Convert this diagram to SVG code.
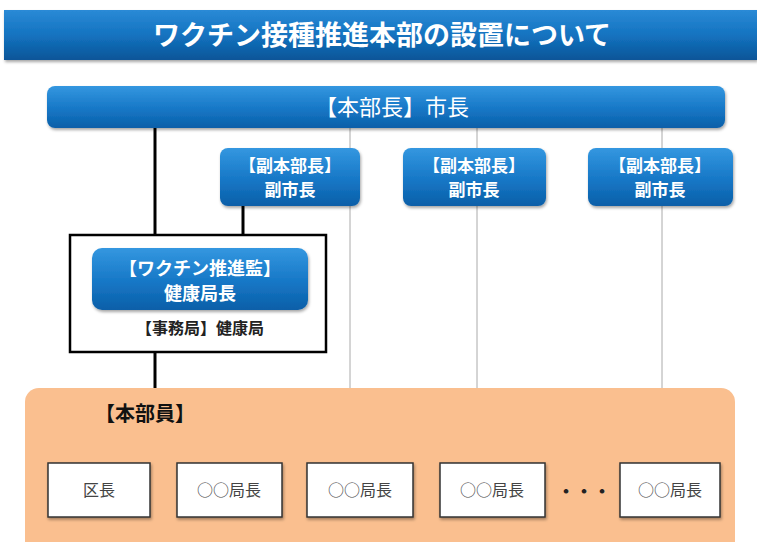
<svg xmlns="http://www.w3.org/2000/svg" width="757" height="542" viewBox="0 0 757 542">
<defs>
<linearGradient id="gTitle" x1="0" y1="0" x2="0" y2="1">
<stop offset="0" stop-color="#2a8ad6"/>
<stop offset="0.5" stop-color="#1473c0"/>
<stop offset="1" stop-color="#0a5598"/>
</linearGradient>
<linearGradient id="gBlue" x1="0" y1="0" x2="0" y2="1">
<stop offset="0" stop-color="#3497e0"/>
<stop offset="0.55" stop-color="#1677c6"/>
<stop offset="1" stop-color="#0b5fa8"/>
</linearGradient>
<filter id="sh" x="-10%" y="-10%" width="130%" height="140%">
<feDropShadow dx="1" dy="2" stdDeviation="1.5" flood-color="#000" flood-opacity="0.35"/>
</filter>
</defs>
<style>
text{font-family:"Noto Sans CJK JP","Noto Sans",sans-serif;text-anchor:middle;}
.wt{fill:#fff;font-weight:bold;}
.blue{fill:url(#gBlue);filter:url(#sh);}
.wbox{fill:#fff;stroke:#333;stroke-width:1.5;filter:url(#sh);}
.bt{fill:#444;font-size:16px;}
.thin{stroke:#aaa;stroke-width:1;fill:none;}
.thick{stroke:#000;stroke-width:3;fill:none;}
</style>
<rect width="757" height="542" fill="#fff"/>
<g id="title">
<rect x="4" y="10" width="753" height="50" fill="url(#gTitle)" filter="url(#sh)"/>
<text x="382" y="45" class="wt" font-size="27">ワクチン接種推進本部の設置について</text>
</g>
<g id="connectors">
<line class="thin" x1="350" y1="125" x2="350" y2="390"/>
<line class="thin" x1="477" y1="125" x2="477" y2="390"/>
<line class="thin" x1="662" y1="125" x2="662" y2="390"/>
<line class="thick" x1="155" y1="125" x2="155" y2="235"/>
<line class="thick" x1="243" y1="205" x2="243" y2="235"/>
<line class="thick" x1="155" y1="352" x2="155" y2="392"/>
</g>
<g id="honbucho">
<rect class="blue" x="47" y="86" width="678" height="42" rx="8"/>
<text x="392" y="115" fill="#fff" font-size="22">【本部長】市長</text>
</g>
<g id="fuku1">
<rect class="blue" x="220" y="148" width="140" height="58" rx="8"/>
<text x="290" y="172" class="wt" font-size="17">【副本部長】</text>
<text x="290" y="196" class="wt" font-size="17">副市長</text>
</g>
<g id="fuku2">
<rect class="blue" x="403" y="148" width="143" height="58" rx="8"/>
<text x="474" y="172" class="wt" font-size="17">【副本部長】</text>
<text x="474" y="196" class="wt" font-size="17">副市長</text>
</g>
<g id="fuku3">
<rect class="blue" x="588" y="148" width="145" height="58" rx="8"/>
<text x="660" y="172" class="wt" font-size="17">【副本部長】</text>
<text x="660" y="196" class="wt" font-size="17">副市長</text>
</g>
<g id="jimukyoku">
<rect x="70" y="235" width="256" height="117" fill="#fff" stroke="#000" stroke-width="2.5"/>
<rect class="blue" x="92" y="248" width="216" height="62" rx="10"/>
<text x="200" y="275" class="wt" font-size="18">【ワクチン推進監】</text>
<text x="200" y="300" class="wt" font-size="18">健康局長</text>
<text x="200" y="334" fill="#222" font-size="16" font-weight="bold">【事務局】健康局</text>
</g>
<g id="honbuin">
<rect x="25" y="388" width="710" height="170" rx="14" fill="#fabf8f"/>
<text x="145" y="421" fill="#111" font-size="20" font-weight="bold">【本部員】</text>
</g>
<g id="kucho">
<rect class="wbox" x="48" y="463" width="102" height="54"/>
<text x="99" y="496" class="bt">区長</text>
</g>
<g id="kyoku1">
<rect class="wbox" x="177" y="463" width="105" height="54"/>
<text x="229" y="496" class="bt">○○局長</text>
</g>
<g id="kyoku2">
<rect class="wbox" x="307" y="463" width="106" height="54"/>
<text x="360" y="496" class="bt">○○局長</text>
</g>
<g id="kyoku3">
<rect class="wbox" x="440" y="463" width="105" height="54"/>
<text x="492" y="496" class="bt">○○局長</text>
</g>
<text x="584" y="498" fill="#222" font-size="18" font-weight="bold">・・・</text>
<g id="kyoku4">
<rect class="wbox" x="620" y="463" width="100" height="54"/>
<text x="670" y="496" class="bt">○○局長</text>
</g>
</svg>
